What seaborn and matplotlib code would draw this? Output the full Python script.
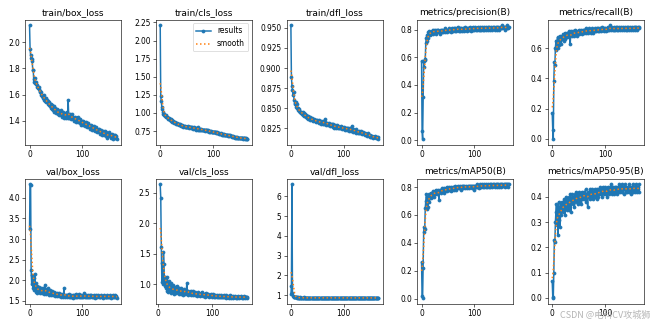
import numpy as np
import pandas as pd
import matplotlib
matplotlib.use("Agg")
import matplotlib.pyplot as plt
from matplotlib.ticker import MultipleLocator
import seaborn as sns

nan = np.nan

titles = ["train/box_loss", "train/cls_loss", "train/dfl_loss", "metrics/precision(B)", "metrics/recall(B)",
          "val/box_loss", "val/cls_loss", "val/dfl_loss", "metrics/mAP50(B)", "metrics/mAP50-95(B)"]

train_box_loss = [
    2.13, 1.95, 1.90, 1.88, 1.87, 1.86, 1.79, 1.79, 1.70, 1.72,
    1.73, 1.69, 1.70, 1.68, 1.66, 1.67, 1.65, 1.64, 1.66, 1.62,
    1.63, 1.60, 1.62, 1.59, 1.60, 1.57, 1.58, 1.60, 1.56, 1.57,
    1.55, 1.57, 1.54, 1.56, 1.53, 1.55, 1.52, 1.54, 1.51, 1.53,
    1.50, 1.53, 1.49, 1.52, 1.50, 1.48, 1.51, 1.47, 1.50, 1.48,
    1.46, 1.49, 1.47, 1.45, 1.48, 1.46, 1.44, 1.47, 1.45, 1.48,
    1.44, 1.46, 1.43, 1.47, 1.45, 1.42, 1.44, 1.46, 1.42, 1.45,
    1.43, 1.47, 1.42, 1.56, 1.44, 1.42, 1.45, 1.43, 1.41, 1.44,
    1.42, 1.45, 1.41, 1.43, 1.42, 1.40, 1.43, 1.41, 1.39, 1.42,
    1.40, 1.43, 1.39, 1.41, 1.40, 1.38, 1.41, 1.39, 1.37, 1.40,
    1.38, 1.40, 1.37, 1.39, 1.38, 1.36, 1.39, 1.37, 1.35, 1.38,
    1.36, 1.38, 1.35, 1.37, 1.36, 1.34, 1.37, 1.35, 1.33, 1.36,
    1.35, 1.33, 1.36, 1.34, 1.32, 1.35, 1.33, 1.31, 1.34, 1.32,
    1.33, 1.31, 1.34, 1.32, 1.30, 1.33, 1.31, 1.29, 1.32, 1.30,
    1.31, 1.29, 1.32, 1.30, 1.28, 1.31, 1.29, 1.27, 1.30, 1.28,
    1.29, 1.31, 1.28, 1.30, 1.27, 1.29, 1.30, 1.28, 1.26, 1.29,
    1.28, 1.27, 1.29, 1.27, 1.28, 1.26]

train_cls_loss = [
    2.21, 1.23, 1.16, 1.08, 1.05, 1.01, 0.99, 0.98, 0.97, 0.96,
    0.97, 0.95, 0.94, 0.95, 0.93, 0.92, 0.93, 0.91, 0.92, 0.90,
    0.91, 0.89, 0.90, 0.88, 0.89, 0.87, 0.88, 0.86, 0.87, 0.86,
    0.85, 0.86, 0.84, 0.85, 0.84, 0.83, 0.85, 0.83, 0.84, 0.82,
    0.83, 0.82, 0.83, 0.81, 0.82, 0.82, 0.81, 0.82, 0.80, 0.81,
    0.81, 0.80, 0.82, 0.80, 0.81, 0.79, 0.80, 0.81, 0.79, 0.80,
    0.79, 0.80, 0.78, 0.79, 0.80, 0.78, 0.79, 0.77, 0.79, 0.78,
    0.79, 0.77, 0.80, 0.78, 0.77, 0.78, 0.77, 0.78, 0.76, 0.77,
    0.77, 0.76, 0.77, 0.76, 0.77, 0.75, 0.76, 0.76, 0.75, 0.76,
    0.75, 0.76, 0.74, 0.75, 0.75, 0.74, 0.75, 0.74, 0.74, 0.73,
    0.74, 0.73, 0.74, 0.73, 0.73, 0.72, 0.73, 0.72, 0.73, 0.72,
    0.72, 0.71, 0.72, 0.71, 0.72, 0.71, 0.70, 0.71, 0.70, 0.71,
    0.70, 0.71, 0.70, 0.69, 0.70, 0.69, 0.70, 0.69, 0.68, 0.69,
    0.69, 0.68, 0.69, 0.68, 0.68, 0.67, 0.68, 0.67, 0.68, 0.67,
    0.67, 0.66, 0.67, 0.67, 0.66, 0.67, 0.66, 0.66, 0.65, 0.66,
    0.66, 0.65, 0.66, 0.65, 0.65, 0.66, 0.65, 0.64, 0.65, 0.65,
    0.64, 0.65, 0.64, 0.65, 0.64, 0.64]

train_dfl_loss = [
    0.953, 0.889, 0.878, 0.873, 0.866, 0.870, 0.860, 0.857, 0.855, 0.858,
    0.852, 0.855, 0.850, 0.848, 0.851, 0.847, 0.849, 0.845, 0.846, 0.844,
    0.846, 0.843, 0.845, 0.842, 0.844, 0.841, 0.843, 0.840, 0.842, 0.839,
    0.841, 0.838, 0.840, 0.837, 0.839, 0.838, 0.836, 0.839, 0.837, 0.835,
    0.838, 0.836, 0.834, 0.837, 0.835, 0.836, 0.834, 0.833, 0.836, 0.834,
    0.835, 0.833, 0.834, 0.832, 0.835, 0.833, 0.831, 0.834, 0.832, 0.833,
    0.831, 0.834, 0.832, 0.830, 0.833, 0.837, 0.831, 0.829, 0.832, 0.830,
    0.831, 0.829, 0.832, 0.830, 0.828, 0.831, 0.829, 0.830, 0.828, 0.827,
    0.830, 0.828, 0.826, 0.829, 0.827, 0.828, 0.826, 0.829, 0.827, 0.825,
    0.828, 0.826, 0.827, 0.825, 0.828, 0.826, 0.824, 0.827, 0.825, 0.826,
    0.824, 0.827, 0.825, 0.823, 0.826, 0.824, 0.825, 0.823, 0.826, 0.824,
    0.822, 0.825, 0.823, 0.824, 0.822, 0.828, 0.823, 0.821, 0.824, 0.822,
    0.823, 0.821, 0.822, 0.824, 0.820, 0.822, 0.821, 0.819, 0.822, 0.820,
    0.821, 0.819, 0.820, 0.822, 0.818, 0.820, 0.819, 0.821, 0.818, 0.819,
    0.817, 0.819, 0.818, 0.816, 0.818, 0.817, 0.819, 0.816, 0.817, 0.815,
    0.817, 0.815, 0.816, 0.814, 0.816, 0.815, 0.813, 0.815, 0.814, 0.816,
    0.814, 0.813, 0.815, 0.813, 0.814, 0.812]

precision = [
    0.57, 0.07, 0.01, 0.31, 0.57, 0.53, 0.58, 0.59, 0.70, 0.74,
    0.76, 0.72, 0.78, 0.74, 0.77, 0.79, 0.76, 0.78, 0.77, 0.79,
    0.78, 0.80, 0.77, 0.79, 0.78, 0.80, 0.78, 0.79, 0.77, 0.80,
    0.78, 0.79, 0.80, 0.78, 0.79, 0.77, 0.80, 0.79, 0.78, 0.80,
    0.79, 0.78, 0.80, 0.79, 0.81, 0.78, 0.80, 0.79, 0.80, 0.78,
    0.80, 0.79, 0.81, 0.79, 0.80, 0.78, 0.80, 0.81, 0.79, 0.80,
    0.79, 0.81, 0.80, 0.79, 0.81, 0.80, 0.79, 0.81, 0.80, 0.82,
    0.79, 0.80, 0.81, 0.79, 0.80, 0.81, 0.80, 0.79, 0.81, 0.80,
    0.81, 0.79, 0.80, 0.82, 0.80, 0.81, 0.79, 0.81, 0.80, 0.81,
    0.80, 0.82, 0.80, 0.81, 0.79, 0.81, 0.80, 0.82, 0.80, 0.81,
    0.80, 0.81, 0.82, 0.80, 0.81, 0.80, 0.82, 0.81, 0.80, 0.81,
    0.82, 0.80, 0.81, 0.80, 0.82, 0.81, 0.80, 0.81, 0.82, 0.80,
    0.81, 0.82, 0.80, 0.81, 0.81, 0.82, 0.80, 0.81, 0.82, 0.81,
    0.80, 0.82, 0.81, 0.81, 0.80, 0.82, 0.81, 0.82, 0.80, 0.81,
    0.82, 0.81, 0.80, 0.82, 0.81, 0.82, 0.81, 0.80, 0.82, 0.81,
    0.82, 0.81, 0.83, 0.81, 0.82, 0.81, 0.82, 0.80, 0.82, 0.81,
    0.82, 0.81, 0.83, 0.81, 0.82, 0.82]

recall = [
    0.17, 0.06, 0.00, 0.38, 0.51, 0.49, 0.60, 0.65, 0.59, 0.63,
    0.67, 0.60, 0.66, 0.62, 0.68, 0.65, 0.67, 0.63, 0.68, 0.66,
    0.69, 0.67, 0.65, 0.68, 0.70, 0.66, 0.69, 0.67, 0.70, 0.68,
    0.69, 0.71, 0.67, 0.70, 0.63, 0.69, 0.71, 0.68, 0.70, 0.69,
    0.71, 0.68, 0.70, 0.72, 0.69, 0.71, 0.70, 0.68, 0.71, 0.70,
    0.72, 0.69, 0.71, 0.70, 0.72, 0.70, 0.71, 0.69, 0.72, 0.71,
    0.70, 0.72, 0.71, 0.73, 0.70, 0.72, 0.71, 0.70, 0.72, 0.71,
    0.73, 0.71, 0.72, 0.70, 0.72, 0.71, 0.73, 0.72, 0.70, 0.72,
    0.71, 0.73, 0.72, 0.71, 0.73, 0.72, 0.71, 0.73, 0.72, 0.71,
    0.73, 0.72, 0.71, 0.73, 0.72, 0.74, 0.72, 0.71, 0.73, 0.72,
    0.73, 0.72, 0.71, 0.73, 0.72, 0.74, 0.72, 0.73, 0.72, 0.75,
    0.73, 0.72, 0.74, 0.73, 0.72, 0.73, 0.74, 0.72, 0.73, 0.72,
    0.74, 0.73, 0.72, 0.74, 0.73, 0.72, 0.73, 0.74, 0.72, 0.73,
    0.74, 0.73, 0.72, 0.73, 0.74, 0.72, 0.73, 0.74, 0.73, 0.72,
    0.73, 0.74, 0.72, 0.73, 0.74, 0.73, 0.72, 0.74, 0.73, 0.72,
    0.73, 0.74, 0.73, 0.72, 0.74, 0.73, 0.74, 0.72, 0.73, 0.74,
    0.73, 0.72, 0.74, 0.73, 0.73, 0.74]

val_box_loss = [
    3.24, 4.33, 4.31, 2.25, 1.90, 2.13, 1.95, 1.80, 2.05, 1.75,
    2.14, 1.78, 1.92, 1.72, 1.85, 1.70, 1.80, 1.74, 1.83, 1.69,
    1.78, 1.72, 1.80, 1.68, 1.75, 1.71, 1.82, 1.67, 1.76, 1.88,
    1.70, 1.78, 1.66, 1.74, 1.69, 1.80, 1.65, 1.72, 1.68, 1.76,
    1.64, 1.71, 1.67, 1.74, 1.63, 1.69, 1.66, 1.72, 1.62, 1.68,
    1.65, 1.70, 1.62, 1.66, 1.64, 1.69, 1.61, 1.65, 1.63, 1.67,
    1.60, 1.64, 1.62, 1.66, 1.59, 1.81, 1.63, 1.60, 1.65, 1.61,
    1.63, 1.58, 1.64, 1.61, 1.66, 1.59, 1.62, 1.60, 1.65, 1.58,
    1.62, 1.60, 1.64, 1.57, 1.61, 1.63, 1.59, 1.66, 1.60, 1.62,
    1.58, 1.64, 1.61, 1.59, 1.67, 1.60, 1.62, 1.58, 1.65, 1.61,
    1.59, 1.63, 1.60, 1.68, 1.58, 1.62, 1.60, 1.64, 1.59, 1.61,
    1.63, 1.58, 1.62, 1.60, 1.65, 1.59, 1.61, 1.63, 1.58, 1.62,
    1.60, 1.64, 1.59, 1.61, 1.57, 1.63, 1.60, 1.62, 1.58, 1.61,
    1.64, 1.59, 1.62, 1.60, 1.58, 1.63, 1.61, 1.59, 1.62, 1.57,
    1.61, 1.64, 1.59, 1.62, 1.60, 1.58, 1.63, 1.60, 1.62, 1.59,
    1.61, 1.58, 1.63, 1.60, 1.57, 1.62, 1.59, 1.64, 1.60, 1.58,
    1.61, 1.63, 1.59, 1.60, 1.62, 1.57]

val_cls_loss = [
    nan, nan, nan, nan, 2.64, 2.42, 1.62, 1.04, 1.35, 1.00,
    1.53, 1.33, 0.98, 1.13, 0.95, 1.07, 0.90, 1.12, 0.93, 0.88,
    1.05, 0.92, 0.97, 0.86, 1.02, 0.90, 0.94, 0.87, 0.99, 0.91,
    0.85, 0.96, 0.89, 0.93, 0.86, 0.98, 0.88, 0.92, 0.85, 0.95,
    0.87, 0.91, 0.84, 0.94, 0.86, 0.90, 0.83, 0.92, 0.87, 0.89,
    0.84, 0.91, 0.86, 1.02, 0.85, 0.89, 0.83, 0.88, 0.86, 0.84,
    0.90, 0.83, 0.87, 0.85, 0.82, 0.89, 0.84, 0.86, 0.82, 0.88,
    0.83, 0.85, 0.81, 0.87, 0.84, 0.82, 0.86, 0.83, 0.81, 0.85,
    0.82, 0.88, 0.83, 0.81, 0.85, 0.82, 0.84, 0.80, 0.86, 0.82,
    0.84, 0.81, 0.83, 0.85, 0.80, 0.83, 0.81, 0.84, 0.82, 0.80,
    0.83, 0.81, 0.84, 0.80, 0.82, 0.79, 0.83, 0.81, 0.80, 0.82,
    0.79, 0.81, 0.80, 0.83, 0.79, 0.81, 0.80, 0.82, 0.79, 0.81,
    0.80, 0.83, 0.79, 0.81, 0.80, 0.78, 0.82, 0.80, 0.79, 0.81,
    0.78, 0.80, 0.82, 0.79, 0.81, 0.78, 0.80, 0.79, 0.81, 0.78,
    0.80, 0.79, 0.81, 0.78, 0.80, 0.79, 0.78, 0.81, 0.79, 0.80,
    0.78, 0.80, 0.79, 0.81, 0.78, 0.79, 0.80, 0.78, 0.79, 0.81,
    0.79, 0.78, 0.80, 0.79, 0.78, 0.79]

val_dfl_loss = [
    1.05, 1.45, 6.60, 1.10, 0.95, 0.92, 0.91, 0.90, 0.89, 0.90,
    0.89, 0.88, 0.89, 0.88, 0.89, 0.88, 0.88, 0.89, 0.88, 0.87,
    0.88, 0.88, 0.87, 0.88, 0.89, 0.87, 0.88, 0.87, 0.88, 0.88,
    0.87, 0.88, 0.87, 0.88, 0.87, 0.88, 0.88, 0.87, 0.88, 0.87,
    0.87, 0.88, 0.87, 0.88, 0.87, 0.87, 0.88, 0.87, 0.88, 0.87,
    0.88, 0.87, 0.87, 0.88, 0.87, 0.88, 0.87, 0.87, 0.88, 0.87,
    0.87, 0.88, 0.87, 0.87, 0.88, 0.87, 0.88, 0.87, 0.87, 0.88,
    0.87, 0.87, 0.88, 0.87, 0.87, 0.88, 0.87, 0.87, 0.88, 0.87,
    0.87, 0.88, 0.87, 0.87, 0.87, 0.88, 0.87, 0.87, 0.88, 0.87,
    0.87, 0.87, 0.88, 0.87, 0.87, 0.87, 0.88, 0.87, 0.87, 0.87,
    0.88, 0.87, 0.87, 0.87, 0.88, 0.87, 0.87, 0.87, 0.87, 0.88,
    0.87, 0.87, 0.87, 0.88, 0.87, 0.87, 0.87, 0.87, 0.88, 0.87,
    0.87, 0.87, 0.87, 0.88, 0.87, 0.87, 0.87, 0.87, 0.87, 0.88,
    0.87, 0.87, 0.87, 0.87, 0.88, 0.87, 0.87, 0.87, 0.87, 0.87,
    0.88, 0.87, 0.87, 0.87, 0.87, 0.87, 0.88, 0.87, 0.87, 0.87,
    0.87, 0.87, 0.88, 0.87, 0.87, 0.87, 0.87, 0.87, 0.87, 0.88,
    0.87, 0.87, 0.87, 0.87, 0.87, 0.87]

map50 = [
    0.26, 0.02, 0.005, 0.22, 0.48, 0.51, 0.50, 0.65, 0.70, 0.75,
    0.64, 0.73, 0.66, 0.72, 0.75, 0.69, 0.74, 0.72, 0.76, 0.73,
    0.76, 0.74, 0.77, 0.75, 0.73, 0.77, 0.75, 0.78, 0.76, 0.77,
    0.75, 0.78, 0.76, 0.71, 0.77, 0.78, 0.76, 0.78, 0.77, 0.79,
    0.77, 0.78, 0.76, 0.79, 0.78, 0.77, 0.79, 0.78, 0.80, 0.77,
    0.79, 0.78, 0.80, 0.78, 0.79, 0.77, 0.80, 0.79, 0.78, 0.80,
    0.79, 0.78, 0.80, 0.79, 0.81, 0.78, 0.80, 0.79, 0.80, 0.81,
    0.79, 0.80, 0.81, 0.79, 0.80, 0.78, 0.81, 0.80, 0.79, 0.81,
    0.80, 0.81, 0.79, 0.80, 0.81, 0.80, 0.79, 0.81, 0.80, 0.81,
    0.79, 0.81, 0.80, 0.81, 0.80, 0.79, 0.81, 0.80, 0.81, 0.78,
    0.81, 0.80, 0.81, 0.80, 0.82, 0.80, 0.81, 0.80, 0.79, 0.81,
    0.80, 0.82, 0.81, 0.80, 0.81, 0.82, 0.80, 0.81, 0.80, 0.82,
    0.81, 0.80, 0.82, 0.81, 0.80, 0.82, 0.81, 0.80, 0.81, 0.82,
    0.80, 0.81, 0.82, 0.81, 0.80, 0.82, 0.81, 0.82, 0.80, 0.81,
    0.82, 0.81, 0.80, 0.82, 0.81, 0.82, 0.80, 0.81, 0.82, 0.81,
    0.82, 0.80, 0.81, 0.82, 0.81, 0.82, 0.81, 0.80, 0.82, 0.81,
    0.82, 0.81, 0.82, 0.80, 0.82, 0.82]

map50_95 = [
    0.065, 0.005, 0.0, 0.10, 0.23, 0.22, 0.30, 0.34, 0.37, 0.29,
    0.36, 0.25, 0.38, 0.31, 0.36, 0.28, 0.37, 0.33, 0.38, 0.35,
    0.37, 0.34, 0.39, 0.36, 0.33, 0.38, 0.40, 0.35, 0.38, 0.36,
    0.39, 0.35, 0.40, 0.37, 0.41, 0.34, 0.39, 0.38, 0.41, 0.37,
    0.40, 0.38, 0.36, 0.41, 0.39, 0.42, 0.38, 0.40, 0.37, 0.41,
    0.39, 0.42, 0.38, 0.41, 0.40, 0.37, 0.42, 0.39, 0.41, 0.40,
    0.42, 0.39, 0.41, 0.43, 0.38, 0.41, 0.40, 0.36, 0.42, 0.40,
    0.41, 0.43, 0.39, 0.42, 0.40, 0.43, 0.41, 0.39, 0.42, 0.41,
    0.43, 0.40, 0.42, 0.41, 0.39, 0.43, 0.42, 0.40, 0.43, 0.41,
    0.42, 0.44, 0.41, 0.43, 0.40, 0.42, 0.44, 0.41, 0.43, 0.42,
    0.44, 0.41, 0.43, 0.42, 0.40, 0.44, 0.42, 0.43, 0.41, 0.44,
    0.42, 0.45, 0.43, 0.41, 0.44, 0.42, 0.43, 0.41, 0.44, 0.43,
    0.42, 0.44, 0.43, 0.41, 0.44, 0.42, 0.45, 0.43, 0.42, 0.44,
    0.43, 0.45, 0.42, 0.44, 0.43, 0.41, 0.44, 0.43, 0.45, 0.42,
    0.44, 0.43, 0.42, 0.44, 0.43, 0.45, 0.42, 0.44, 0.43, 0.41,
    0.44, 0.43, 0.45, 0.42, 0.44, 0.43, 0.44, 0.42, 0.45, 0.43,
    0.44, 0.42, 0.44, 0.43, 0.42, 0.45]

series = [train_box_loss, train_cls_loss, train_dfl_loss, precision, recall,
          val_box_loss, val_cls_loss, val_dfl_loss, map50, map50_95]


def gaussian_smooth(y, sigma=3.0):
    r = int(4 * sigma + 0.5)
    k = np.exp(-0.5 * (np.arange(-r, r + 1) / sigma) ** 2)
    k /= k.sum()
    yp = np.pad(y, r, mode="symmetric")
    return np.convolve(yp, k, mode="valid")


fig, axs = plt.subplots(2, 5, figsize=(12, 6), tight_layout=True)
axs = axs.ravel()
for i, (ax, title, vals) in enumerate(zip(axs, titles, series)):
    y = np.asarray(vals, dtype=float)
    epochs = np.arange(len(y))
    ok = ~np.isnan(y)
    df = pd.DataFrame({"epoch": epochs[ok], "value": y[ok]})
    df["smooth"] = gaussian_smooth(df["value"].to_numpy())
    sns.lineplot(data=df, x="epoch", y="value", ax=ax, marker=".", linewidth=2, markersize=8,
                 color="#1f77b4", markeredgecolor="#1f77b4", markeredgewidth=1, label="results")
    sns.lineplot(data=df, x="epoch", y="smooth", ax=ax, linestyle=":", linewidth=2,
                 color="#ff7f0e", label="smooth")
    ax.set_title(title, fontsize=12)
    ax.set_xlabel("")
    ax.set_ylabel("")
    ax.xaxis.set_major_locator(MultipleLocator(100))
    leg = ax.get_legend()
    if leg is not None:
        leg.remove()
axs[2].yaxis.set_major_locator(MultipleLocator(0.025))
axs[1].legend()

fig.text(0.997, 0.02, "CSDN @电科CV攻城狮", ha="right", va="bottom", fontsize=12,
         color="#a8a8a8", alpha=0.85, family=["Noto Sans CJK SC", "DejaVu Sans"])

fig.savefig("out.png", dpi=652 / 12)
